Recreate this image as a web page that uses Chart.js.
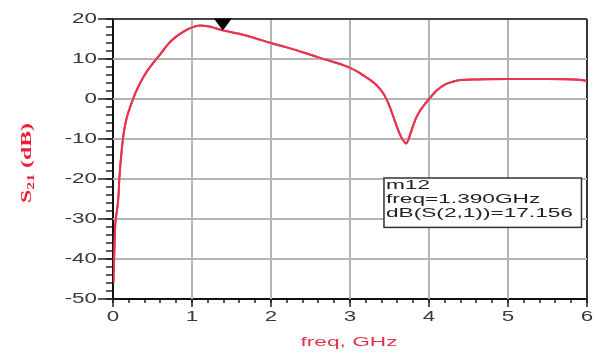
<!DOCTYPE html>
<html>
<head>
<meta charset="utf-8">
<script src="https://cdn.jsdelivr.net/npm/chart.js@4/dist/chart.umd.min.js"></script>
<style>
  html, body { margin: 0; padding: 0; background: #fff; }
  #wrap { width: 598px; height: 354px; position: relative; }
</style>
</head>
<body>
<div id="wrap"><canvas id="s21-chart"></canvas></div>
<script>
// S21 sweep (GHz, dB)
var freq = [0.005, 0.02, 0.03, 0.05, 0.07, 0.08, 0.1, 0.12, 0.14, 0.17, 0.2, 0.25, 0.3, 0.4, 0.5,
            0.6, 0.7, 0.8, 0.9, 1.0, 1.1, 1.2, 1.3, 1.39, 1.6, 1.8, 2.0, 2.2, 2.4, 2.6, 2.8,
            3.0, 3.1, 3.2, 3.3, 3.35, 3.4, 3.45, 3.5, 3.55, 3.6, 3.65, 3.69, 3.71, 3.73, 3.77,
            3.8, 3.84, 3.88, 3.92, 4.0, 4.1, 4.2, 4.3, 4.4, 4.6, 5.0, 5.5, 5.9, 6.0];
var s21 = [-46, -36, -31, -28, -24, -20, -15, -11, -8, -5, -3, -0.2, 2.2, 6.0, 8.8,
           11.2, 13.8, 15.6, 16.9, 17.9, 18.4, 18.2, 17.7, 17.156, 16.3, 15.2, 14.0, 12.9, 11.7, 10.4, 9.2,
           7.8, 6.8, 5.5, 4.1, 3.2, 2.0, 0.4, -1.8, -4.5, -7.3, -9.6, -10.8, -11.1, -10.6, -8.4,
           -6.6, -4.6, -3.1, -2.0, 0.0, 2.2, 3.6, 4.3, 4.75, 4.9, 5.0, 5.0, 4.8, 4.5];

var xTicks = ['0', '1', '2', '3', '4', '5', '6'];
var yTicks = ['20', '10', '0', '-10', '-20', '-30', '-40', '-50'];

var marker = { name: 'm12', freq: 1.39, value: 17.156 };
var markerLines = ['m12', 'freq=1.390GHz', 'dB(S(2,1))=17.156'];

var SX = 1.6; // the original picture is stretched sideways

function isMajor(v, step) {
    var q = v / step;
    return Math.abs(q - Math.round(q)) < 1e-6;
}

var annotations = {
    id: 'annotations',
    afterDatasetsDraw: function(c) {
        var g = c.ctx, x = c.scales.x, y = c.scales.y;
        var area = c.chartArea;

        // major grid as thin rects, then the trace again on top of it
        g.save();
        xTicks.forEach(function(lbl) {
            var v = Number(lbl);
            if (v === 0) return;
            var gx = Math.round(x.getPixelForValue(v));
            g.fillStyle = v === 6 ? '#333' : '#b4b4b4';
            g.fillRect(gx - 1, area.top, 2, area.bottom - area.top);
        });
        yTicks.forEach(function(lbl) {
            var v = Number(lbl);
            if (v === -50) return;
            var gy = Math.round(y.getPixelForValue(v));
            g.fillStyle = v === 20 ? '#444' : '#b4b4b4';
            g.fillRect(area.left, gy - 1, area.right - area.left, 2);
        });
        g.beginPath();
        g.rect(area.left, area.top, area.right - area.left, area.bottom - area.top);
        g.clip();
        c.getDatasetMeta(0).dataset.draw(g, area);
        g.restore();

        // marker triangle, tip on the point
        var px = x.getPixelForValue(marker.freq), py = y.getPixelForValue(marker.value);
        g.save();
        g.fillStyle = '#000';
        g.beginPath();
        g.moveTo(px - 9, py - 12);
        g.lineTo(px + 9, py - 12);
        g.lineTo(px, py);
        g.closePath();
        g.fill();
        g.restore();

        // marker readout box
        var bx0 = x.getPixelForValue(3.43), bx1 = x.getPixelForValue(5.93);
        var by0 = y.getPixelForValue(-19.75), by1 = y.getPixelForValue(-32.1);
        g.save();
        g.fillStyle = '#fff';
        g.fillRect(bx0, by0, bx1 - bx0, by1 - by0);
        g.strokeStyle = '#333';
        g.lineWidth = 1.5;
        g.strokeRect(bx0, by0, bx1 - bx0, by1 - by0);
        g.font = '12px "Liberation Sans", Arial, sans-serif';
        g.fillStyle = '#222';
        g.textBaseline = 'alphabetic';
        g.textAlign = 'left';
        var k = 187 / g.measureText(markerLines[2]).width;
        markerLines.forEach(function(line, i) {
            g.save();
            g.translate(bx0 + 2, by0 + 11 + i * 14);
            g.scale(k, 1);
            g.fillText(line, 0, 0);
            g.restore();
        });
        g.restore();
    },
    afterDraw: function(c) {
        var g = c.ctx, x = c.scales.x, y = c.scales.y;
        var area = c.chartArea;
        g.save();
        // long major ticks
        g.strokeStyle = '#222';
        g.lineWidth = 1.5;
        yTicks.forEach(function(lbl) {
            var ty = y.getPixelForValue(Number(lbl));
            g.beginPath(); g.moveTo(area.left - 15, ty); g.lineTo(area.left, ty); g.stroke();
        });
        xTicks.forEach(function(lbl) {
            var tx = x.getPixelForValue(Number(lbl));
            g.beginPath(); g.moveTo(tx, area.bottom); g.lineTo(tx, area.bottom + 8); g.stroke();
        });

        // tick labels
        g.font = '14px "Liberation Sans", Arial, sans-serif';
        g.fillStyle = '#3a3a3a';
        g.textBaseline = 'middle';
        g.textAlign = 'right';
        yTicks.forEach(function(lbl) {
            g.save();
            g.translate(area.left - 16, y.getPixelForValue(Number(lbl)));
            g.scale(SX, 1);
            g.fillText(lbl, 0, 0);
            g.restore();
        });
        g.textAlign = 'center';
        xTicks.forEach(function(lbl) {
            g.save();
            g.translate(x.getPixelForValue(Number(lbl)), area.bottom + 18);
            g.scale(SX, 1);
            g.fillText(lbl, 0, 0);
            g.restore();
        });

        // x title
        g.font = '13px "Liberation Sans", Arial, sans-serif';
        g.fillStyle = '#e0344c';
        var xt = 'freq, GHz';
        var kx = 97 / g.measureText(xt).width;
        g.save();
        g.translate(349, 342);
        g.scale(kx, 1);
        g.fillText(xt, 0, 0);
        g.restore();

        // y title S21 (dB), rotated, with subscript
        var big = 'bold 15px "Liberation Serif", "Times New Roman", serif';
        var small = 'bold 10px "Liberation Serif", "Times New Roman", serif';
        g.font = big;
        var wS = g.measureText('S').width, wRest = g.measureText(' (dB)').width;
        g.font = small;
        var wSub = g.measureText('21').width;
        var total = wS + wSub + wRest;
        var ky = 80 / total;
        g.save();
        g.translate(26, 163);
        g.rotate(-Math.PI / 2);
        g.scale(ky, 1);
        g.fillStyle = '#ee1c36';
        g.textAlign = 'left';
        g.textBaseline = 'alphabetic';
        var cx = -total / 2;
        g.font = big; g.fillText('S', cx, 5);
        g.font = small; g.fillText('21', cx + wS, 8);
        g.font = big; g.fillText(' (dB)', cx + wS + wSub, 5);
        g.restore();
        g.restore();
    }
};

var s21Chart = new Chart(document.getElementById('s21-chart'), {
    type: 'line',
    data: {
        datasets: [{
            label: 'dB(S(2,1))',
            data: freq.map(function(f, i) { return { x: f, y: s21[i] }; }),
            borderColor: '#e8344e',
            borderWidth: 2,
            pointRadius: 0,
            fill: false,
            cubicInterpolationMode: 'monotone'
        }]
    },
    options: {
        responsive: true,
        maintainAspectRatio: false,
        animation: false,
        events: [],
        layout: { padding: { left: 0, top: 19, right: 11, bottom: 0 } },
        plugins: { legend: { display: false }, tooltip: { enabled: false } },
        scales: {
            x: {
                type: 'linear',
                min: 0, max: 6,
                afterFit: function(s) { s.height = 55; },
                ticks: { display: false, stepSize: 0.2, maxTicksLimit: 100, autoSkip: false },
                border: { color: '#111', width: 2 },
                grid: {
                    tickLength: 4,
                    color: function(ctxt) {
                        var v = ctxt.tick ? ctxt.tick.value : 0;
                        if (v >= 6 - 1e-6) return '#333';
                        if (v <= 1e-6) return 'rgba(0,0,0,0)';
                        return isMajor(v, 1) ? '#b4b4b4' : 'rgba(0,0,0,0)';
                    },
                    tickColor: '#222',
                    tickWidth: 1.5,
                    lineWidth: 2
                }
            },
            y: {
                min: -50, max: 20,
                afterFit: function(s) { s.width = 113; },
                ticks: { display: false, stepSize: 2, maxTicksLimit: 100, autoSkip: false },
                border: { color: '#111', width: 2 },
                grid: {
                    tickLength: 7,
                    color: function(ctxt) {
                        var v = ctxt.tick ? ctxt.tick.value : -50;
                        if (v >= 20 - 1e-6) return '#444';
                        if (v <= -50 + 1e-6) return 'rgba(0,0,0,0)';
                        return isMajor(v, 10) ? '#b4b4b4' : 'rgba(0,0,0,0)';
                    },
                    tickColor: '#222',
                    tickWidth: 1.5,
                    lineWidth: 2
                }
            }
        }
    },
    plugins: [annotations]
});
</script>
</body>
</html>
